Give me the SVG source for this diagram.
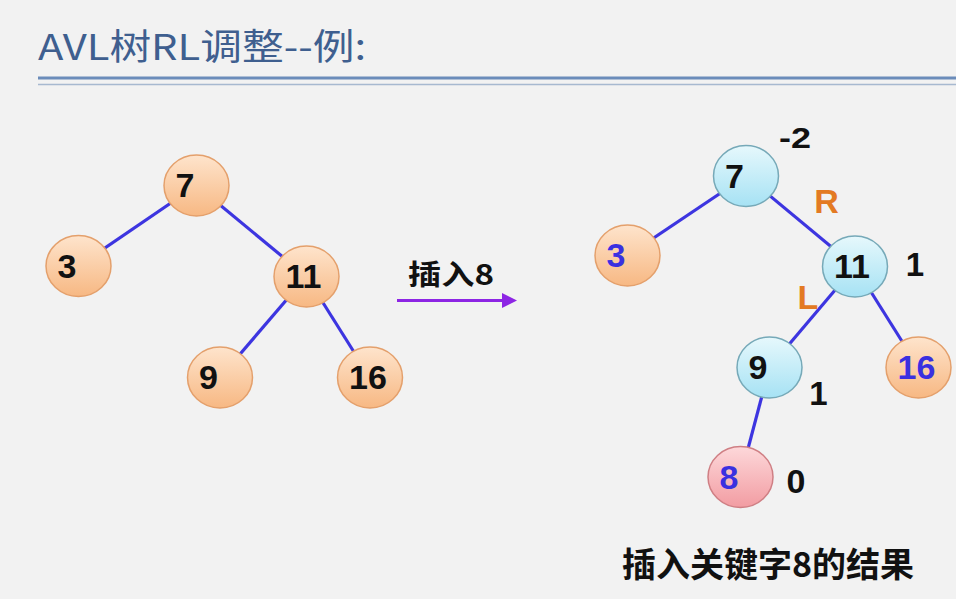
<svg xmlns="http://www.w3.org/2000/svg" width="956" height="599" viewBox="0 0 956 599">
<defs>
<linearGradient id="gOr" x1="0" y1="0" x2="0" y2="1"><stop offset="0" stop-color="#fee4cc"/><stop offset="1" stop-color="#f7b883"/></linearGradient>
<linearGradient id="gCy" x1="0" y1="0" x2="0" y2="1"><stop offset="0" stop-color="#e6f8fc"/><stop offset="1" stop-color="#a6e2f4"/></linearGradient>
<linearGradient id="gPk" x1="0" y1="0" x2="0" y2="1"><stop offset="0" stop-color="#fdd8da"/><stop offset="1" stop-color="#f29ca2"/></linearGradient>
<style>
.or{fill:url(#gOr);stroke:#e4a06c;stroke-width:1.5}
.cy{fill:url(#gCy);stroke:#76a9b8;stroke-width:1.5}
.pk{fill:url(#gPk);stroke:#cf7f84;stroke-width:1.5}
.num{font-family:"Liberation Sans",Arial,sans-serif;font-weight:bold;font-size:34px;fill:#111}
.blue{fill:#3a30e0}
.bf{font-family:"Liberation Sans",Arial,sans-serif;font-weight:bold;fill:#111}
.lbl{font-family:"Liberation Sans",Arial,sans-serif;font-weight:bold;font-size:34px;fill:#e37a23;text-anchor:middle}
.edge{stroke:#3d35e0;stroke-width:3.2;fill:none}
.cjk{font-family:"Noto Sans CJK SC","Liberation Sans",sans-serif;font-weight:bold;fill:#111}
</style>
</defs>
<rect width="956" height="599" fill="#f2f2f2"/>
<g id="title">
<text x="38" y="60" font-family="Noto Sans CJK SC, Liberation Sans, sans-serif" font-size="36" fill="#3f5f8f" textLength="328" lengthAdjust="spacingAndGlyphs">AVL树RL调整--例:</text>
<line x1="38" y1="78" x2="956" y2="78" stroke="#6b8cba" stroke-width="3"/>
<line x1="38" y1="84.5" x2="956" y2="84.5" stroke="#a7b9d0" stroke-width="1.5"/>
</g>
<g id="connectors">
<line class="edge" x1="196.5" y1="185.5" x2="78.5" y2="266"/>
<line class="edge" x1="196.5" y1="185.5" x2="306.5" y2="276.5"/>
<line class="edge" x1="306.5" y1="276.5" x2="220" y2="377.5"/>
<line class="edge" x1="306.5" y1="276.5" x2="370" y2="377.5"/>
<line class="edge" x1="746" y1="176" x2="627.5" y2="255.5"/>
<line class="edge" x1="746" y1="176" x2="855" y2="266.5"/>
<line class="edge" x1="855" y1="266.5" x2="769.5" y2="367.5"/>
<line class="edge" x1="855" y1="266.5" x2="918.5" y2="367.5"/>
<line class="edge" x1="769.5" y1="367.5" x2="740.5" y2="477"/>
<line x1="397" y1="300.5" x2="506" y2="300.5" stroke="#8d25e4" stroke-width="3"/>
<polygon points="502,293 517,300.5 502,308" fill="#8d25e4"/>
</g>
<g id="L7"><ellipse class="or" cx="196.5" cy="185.5" rx="32.5" ry="30.5"/><text class="num" x="175.5" y="197">7</text></g>
<g id="L3"><ellipse class="or" cx="78.5" cy="266" rx="32.5" ry="30.5"/><text class="num" x="57.5" y="277.5">3</text></g>
<g id="L11"><ellipse class="or" cx="306.5" cy="276.5" rx="32.5" ry="30.5"/><text class="num" x="285.5" y="288">11</text></g>
<g id="L9"><ellipse class="or" cx="220" cy="377.5" rx="32.5" ry="30.5"/><text class="num" x="199" y="389">9</text></g>
<g id="L16"><ellipse class="or" cx="370" cy="377.5" rx="32.5" ry="30.5"/><text class="num" x="349" y="389">16</text></g>
<g id="insert-label"><text class="cjk" x="408" y="285" font-size="28" textLength="86" lengthAdjust="spacingAndGlyphs">插入8</text></g>
<g id="R7"><ellipse class="cy" cx="746" cy="176" rx="32.5" ry="30.5"/><text class="num" x="725" y="187.5">7</text><text class="bf" x="779" y="148" font-size="29" textLength="32" lengthAdjust="spacingAndGlyphs">-2</text></g>
<g id="R3"><ellipse class="or" cx="627.5" cy="255.5" rx="32.5" ry="30.5"/><text class="num blue" x="606.5" y="267">3</text></g>
<g id="R11"><ellipse class="cy" cx="855" cy="266.5" rx="32.5" ry="30.5"/><text class="num" x="834" y="278">11</text><text class="bf" x="915" y="275.5" font-size="33" text-anchor="middle">1</text></g>
<g id="R9"><ellipse class="cy" cx="769.5" cy="367.5" rx="32.5" ry="30.5"/><text class="num" x="748.5" y="379">9</text><text class="bf" x="818.5" y="405" font-size="33" text-anchor="middle">1</text></g>
<g id="R16"><ellipse class="or" cx="918.5" cy="367.5" rx="32.5" ry="30.5"/><text class="num blue" x="897.5" y="379">16</text></g>
<g id="R8"><ellipse class="pk" cx="740.5" cy="477" rx="32.5" ry="30.5"/><text class="num blue" x="719.5" y="488.5">8</text><text class="bf" x="796" y="493" font-size="34" text-anchor="middle">0</text></g>
<g id="rotation-labels"><text class="lbl" x="826.5" y="213">R</text><text class="lbl" x="808" y="309">L</text></g>
<g id="caption"><text class="cjk" x="622" y="577" font-size="34" textLength="292" lengthAdjust="spacingAndGlyphs">插入关键字8的结果</text></g>
</svg>
